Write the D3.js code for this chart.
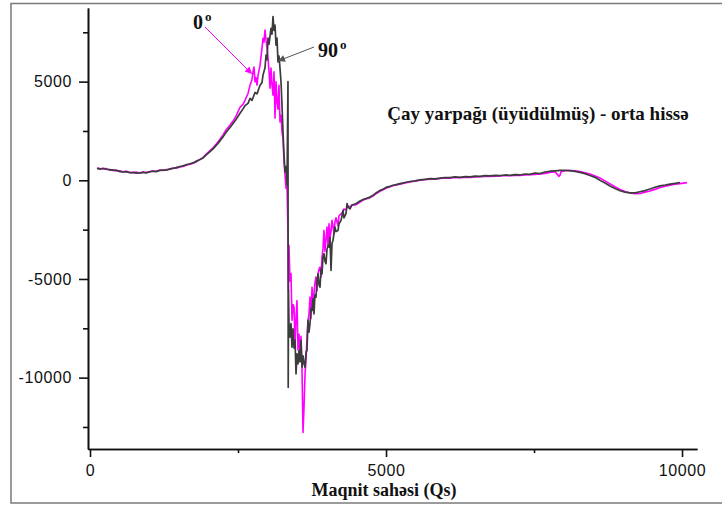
<!DOCTYPE html>
<html>
<head>
<meta charset="utf-8">
<script src="https://cdn.jsdelivr.net/npm/d3@7"></script>
<style>
  html, body { margin: 0; padding: 0; background: #fff; }
  svg { display: block; }
  .tick text { font-family: "Liberation Sans", Arial, sans-serif; font-size: 16px; letter-spacing: 0.6px; fill: #111; }
</style>
</head>
<body>
<svg id="chart" width="722" height="507"></svg>
<script>
// ---- data ----
const xMajorTicks = [0, 5000, 10000];
const xMinorTicks = [2500, 7500];
const yMajorTicks = [-10000, -5000, 0, 5000];
const yMinorTicks = [-12500, -7500, -2500, 2500, 7500];

const xTitle = "Maqnit sahəsi (Qs)";
const sampleLabel = "Çay yarpağı (üyüdülmüş) - orta hissə";
const seriesNames = ["0", "90"];

// 90 degree orientation (dark grey)
const field90 = [118,169,220,270,338,389,439,507,557,608,676,726,777,845,895,946,1014,1064,1115,1182,1233,1284,1351,1402,1453,1520,1571,1622,1689,1740,1791,1858,1909,1959,2027,2078,2128,2196,2247,2297,2365,2416,2466,2534,2584,2618,2669,2703,2736,2787,2821,2872,2905,2922,2956,2973,2990,3007,3024,3057,3074,3091,3108,3125,3142,3159,3175,3192,3209,3226,3243,3260,3277,3294,3311,3328,3344,3348,3353,3361,3378,3395,3412,3429,3446,3463,3480,3496,3513,3530,3547,3564,3581,3598,3615,3632,3649,3665,3682,3699,3716,3733,3750,3767,3783,3800,3817,3834,3851,3868,3885,3902,3919,3935,3952,3969,3986,4003,4020,4037,4054,4071,4088,4104,4121,4138,4155,4189,4206,4240,4257,4273,4290,4324,4341,4358,4392,4426,4476,4510,4561,4611,4662,4730,4780,4831,4899,4949,5000,5068,5118,5169,5237,5321,5405,5490,5574,5659,5743,5828,5912,5997,6081,6166,6250,6335,6419,6504,6588,6673,6757,6842,6926,7010,7094,7179,7263,7348,7432,7517,7601,7686,7770,7854,7939,8023,8108,8192,8277,8361,8446,8530,8615,8699,8784,8868,8953,9037,9122,9206,9291,9375,9460,9544,9629,9713,9798,9882,9967,10085];
const signal90 = [600,570,610,560,540,500,520,440,420,440,380,400,360,380,400,370,440,460,440,500,520,510,580,600,640,700,730,790,840,880,960,1050,1130,1280,1450,1590,1760,2000,2200,2420,2680,2880,3080,3400,3620,3780,3900,4150,4050,4450,4380,4820,4950,5330,5700,6350,6100,7200,6900,7700,7400,8300,7600,7870,6850,7200,6000,6300,5690,4990,3800,2450,1270,420,700,-250,5000,-10490,-5580,-7260,-7950,-7260,-8460,-7530,-8500,-8100,-9810,-8800,-9300,-8630,-9200,-8120,-9470,-8900,-9300,-9470,-8700,-8630,-7100,-7700,-7270,-6500,-6600,-6000,-6770,-5800,-5920,-5100,-4740,-5300,-5420,-4500,-4740,-3900,-3720,-4100,-4230,-3500,-3300,-3380,-2900,-4570,-3200,-3050,-2700,-2370,-2600,-2540,-2200,-2030,-1800,-1520,-1900,-1690,-1180,-1350,-1450,-1250,-1200,-1150,-1050,-980,-920,-850,-760,-640,-510,-450,-360,-305,-250,-220,-170,-110,-60,-30,20,50,85,70,110,140,135,170,150,190,170,210,195,240,220,250,240,270,250,290,270,320,300,370,340,420,460,480,500,510,490,450,400,340,240,150,0,-140,-290,-420,-530,-600,-640,-640,-580,-520,-440,-350,-280,-240,-190,-160,-110];

// 0 degree orientation (magenta)
const field0 = [118,169,220,270,338,389,439,507,557,608,676,726,777,845,895,946,1014,1064,1115,1182,1233,1284,1351,1402,1453,1520,1571,1622,1689,1740,1791,1858,1909,1959,2027,2078,2128,2196,2247,2297,2365,2416,2466,2534,2584,2618,2669,2703,2736,2753,2770,2787,2804,2821,2838,2872,2905,2922,2939,2956,2973,2990,3007,3024,3040,3057,3074,3091,3108,3125,3142,3159,3175,3192,3209,3226,3243,3260,3277,3294,3311,3328,3344,3353,3361,3378,3395,3412,3429,3446,3463,3480,3496,3513,3530,3547,3564,3581,3598,3615,3632,3649,3665,3682,3699,3716,3733,3750,3767,3783,3800,3817,3834,3851,3868,3885,3902,3919,3935,3952,3969,3986,4003,4020,4037,4054,4071,4088,4104,4121,4138,4155,4189,4206,4240,4273,4290,4324,4358,4392,4426,4476,4510,4561,4611,4662,4730,4780,4831,4899,4949,5000,5068,5118,5169,5237,5321,5405,5490,5574,5659,5743,5828,5912,5997,6081,6166,6250,6335,6419,6504,6588,6673,6757,6842,6926,7010,7094,7179,7263,7348,7432,7517,7601,7686,7770,7854,7922,7939,7956,8023,8108,8192,8277,8361,8446,8530,8615,8699,8784,8868,8953,9037,9122,9206,9291,9375,9460,9544,9629,9713,9798,9882,9967,10085];
const signal0 = [620,590,580,600,510,530,470,480,430,460,410,380,420,370,420,400,430,480,450,520,500,540,560,620,610,680,700,760,810,860,930,1060,1150,1320,1500,1640,1820,2080,2300,2550,2800,3000,3250,3700,3850,4050,4400,4820,5100,5500,5740,4990,5200,4820,5300,5840,6700,7190,7000,7610,7100,6700,6200,5500,4670,5690,4820,4310,5500,3150,4990,3970,3600,4820,2960,3300,2450,2130,930,250,-410,-300,-2800,-5600,-3300,-5100,-4730,-7100,-6300,-6430,-8300,-7000,-6090,-8600,-7800,-8730,-7900,-9600,-12780,-11510,-9810,-9100,-8000,-7100,-6800,-5920,-7000,-5420,-6200,-5750,-5200,-4900,-5600,-4740,-4500,-4400,-4900,-3890,-3500,-2540,-3600,-3000,-2370,-3300,-2200,-2900,-2600,-2030,-2300,-2710,-2100,-1900,-2300,-1800,-1700,-1600,-1450,-1500,-1300,-1350,-1250,-1250,-1200,-1100,-1000,-950,-880,-800,-680,-560,-480,-400,-330,-280,-240,-200,-130,-80,-50,0,30,60,50,90,120,110,140,135,160,150,170,180,200,200,210,220,240,230,250,250,270,280,300,320,350,400,430,200,260,430,480,500,480,440,380,320,220,120,-30,-180,-330,-460,-570,-640,-680,-670,-600,-540,-460,-370,-300,-250,-200,-170,-120];

// ---- layout ----
const svg = d3.select("#chart");

const x = d3.scaleLinear().domain([-34, 10253]).range([88, 697]);
const y = d3.scaleLinear().domain([-13616, 8731]).range([449, 8]);

// outer frame
svg.append("rect")
  .attr("x", 11).attr("y", 3.5)
  .attr("width", 712).attr("height", 499.5)
  .attr("fill", "none").attr("stroke", "#7a7a7a").attr("stroke-width", 1.5);

// series
const line = d3.line().x(d => x(d[0])).y(d => y(d[1]));
const data0 = field0.map((f, i) => [f, signal0[i]]);
const data90 = field90.map((f, i) => [f, signal90[i]]);

svg.append("path").datum(data0)
  .attr("d", line).attr("fill", "none")
  .attr("stroke", "#ff00ff").attr("stroke-width", 1.6).attr("stroke-linejoin", "round");
svg.append("path").datum(data90)
  .attr("d", line).attr("fill", "none")
  .attr("stroke", "#3c3c3c").attr("stroke-width", 1.7).attr("stroke-linejoin", "round");

// axes
const fmt = d => String(d);   // plain hyphen-minus as in the reference
const gy = svg.append("g").attr("transform", "translate(88,0)");
gy.call(d3.axisLeft(y).tickValues(yMinorTicks).tickSize(5).tickSizeOuter(0).tickFormat(""));
gy.append("g").call(d3.axisLeft(y).tickValues(yMajorTicks).tickSize(9).tickSizeOuter(0).tickPadding(7).tickFormat(fmt));

const gx = svg.append("g").attr("transform", "translate(0,449)");
gx.call(d3.axisBottom(x).tickValues(xMinorTicks).tickSize(4).tickSizeOuter(0).tickFormat(""));
gx.append("g").call(d3.axisBottom(x).tickValues(xMajorTicks).tickSize(8).tickSizeOuter(0).tickPadding(8).tickFormat(fmt));

svg.selectAll(".domain").attr("stroke", "#111").attr("stroke-width", 1.6);
svg.selectAll(".tick line").attr("stroke", "#111").attr("stroke-width", 1.6);

// axis title
svg.append("text")
  .attr("x", 384).attr("y", 496)
  .attr("text-anchor", "middle")
  .attr("font-family", "'Liberation Serif', 'Times New Roman', serif")
  .attr("font-weight", "bold").attr("font-size", 18).attr("fill", "#111")
  .text(xTitle);

// sample label
svg.append("text")
  .attr("x", 538).attr("y", 120)
  .attr("text-anchor", "middle")
  .attr("font-family", "'Liberation Serif', 'Times New Roman', serif")
  .attr("font-weight", "bold").attr("font-size", 19).attr("fill", "#111")
  .text(sampleLabel);

// arrow markers
const defs = svg.append("defs");
function marker(id, color) {
  defs.append("marker").attr("id", id)
    .attr("viewBox", "0 0 10 10").attr("refX", 10).attr("refY", 5)
    .attr("markerWidth", 10).attr("markerHeight", 7).attr("markerUnits", "userSpaceOnUse")
    .attr("orient", "auto")
    .append("path").attr("d", "M0,0 L10,5 L0,10 Z").attr("fill", color);
}
marker("arrM", "#ff00ff");
marker("arrG", "#555555");

svg.append("line").attr("x1", 205).attr("y1", 27).attr("x2", 252).attr("y2", 74)
  .attr("stroke", "#ff00ff").attr("stroke-width", 1).attr("marker-end", "url(#arrM)");
svg.append("line").attr("x1", 314).attr("y1", 47).attr("x2", 278).attr("y2", 61)
  .attr("stroke", "#555555").attr("stroke-width", 1).attr("marker-end", "url(#arrG)");

// series labels with degree sign as superscript "o"
function degLabel(xp, yp, txt) {
  const t = svg.append("text")
    .attr("x", xp).attr("y", yp)
    .attr("font-family", "'Liberation Serif', 'Times New Roman', serif")
    .attr("font-weight", "bold").attr("font-size", 20).attr("fill", "#111");
  t.append("tspan").text(txt);
  t.append("tspan").attr("dx", 2).attr("dy", -8).attr("font-size", 13).text("o");
}
degLabel(193, 29, seriesNames[0]);
degLabel(318, 57, seriesNames[1]);
</script>
</body>
</html>
